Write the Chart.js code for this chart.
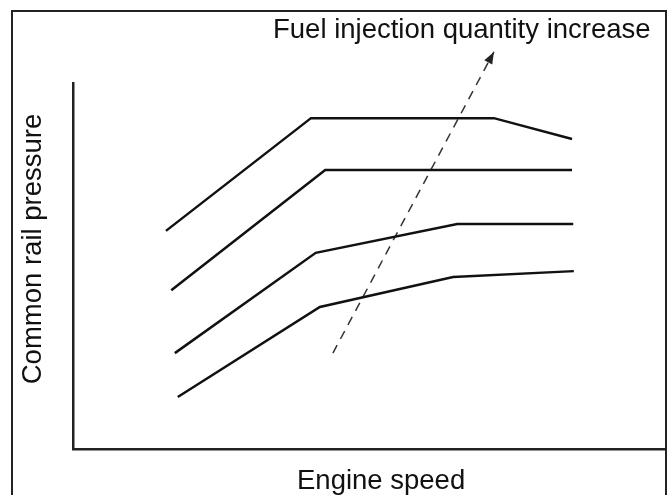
<!DOCTYPE html>
<html lang="en">
<head>
  <meta charset="UTF-8">
  <title>Common rail pressure</title>
  <script src="https://cdn.jsdelivr.net/npm/chart.js"></script>
  <style>
    body {
      margin: 0;
      background: #fff;
    }
    canvas {
      display: block;
    }
  </style>
</head>
<body>
  <canvas id="grafico" width="671" height="495"></canvas>

  <script>
// engine speed (x) vs rail pressure (y), both in relative units 0-100
const curva1X = [15.7, 40.2, 71.1, 84.3];
const curva1Y = [59.6, 90.4, 90.4, 84.7];
const curva2X = [16.6, 42.6, 84.3];
const curva2Y = [43.4, 76.2, 76.2];
const curva3X = [17.2, 41.0, 64.9, 84.5];
const curva3Y = [26.2, 53.6, 61.5, 61.5];
const curva4X = [17.7, 41.7, 64.2, 84.6];
const curva4Y = [14.2, 38.8, 47.0, 48.6];

// dashed arrow: direction of increasing injection quantity (last point = tip)
const setaX = [43.9, 71.1];
const setaY = [26.2, 108.5];

const titulo = 'Fuel injection quantity increase';
const rotuloX = 'Engine speed';
const rotuloY = 'Common rail pressure';

const pontos = (xs, ys) => xs.map((x, i) => ({ x, y: ys[i] }));

const curva = (xs, ys) => ({
  data: pontos(xs, ys),
  borderColor: '#111',
  borderWidth: 2.5,
  pointRadius: 0,
  tension: 0,
  fill: false
});

const fonte = '27.5px "Liberation Sans", Arial, sans-serif';

// frame around the figure, arrowhead and the three text labels
const moldura = {
  id: 'moldura',
  beforeDraw(chart) {
    const ctx = chart.ctx;
    ctx.save();
    ctx.fillStyle = '#fff';
    ctx.fillRect(0, 0, chart.width, chart.height);
    ctx.strokeStyle = '#222';
    ctx.lineWidth = 2;
    ctx.strokeRect(12, 11, 654, 520);
    ctx.restore();
  },
  afterDraw(chart) {
    const ctx = chart.ctx;
    const { x, y } = chart.scales;

    // arrowhead at the end of the dashed line
    const x0 = x.getPixelForValue(setaX[0]), y0 = y.getPixelForValue(setaY[0]);
    const x1 = x.getPixelForValue(setaX[1]), y1 = y.getPixelForValue(setaY[1]);
    const len = Math.hypot(x1 - x0, y1 - y0);
    const ux = (x1 - x0) / len, uy = (y1 - y0) / len;
    const bx = x1 - ux * 12, by = y1 - uy * 12;
    ctx.save();
    ctx.fillStyle = '#222';
    ctx.beginPath();
    ctx.moveTo(x1, y1);
    ctx.lineTo(bx - uy * 4.5, by + ux * 4.5);
    ctx.lineTo(bx + uy * 4.5, by - ux * 4.5);
    ctx.closePath();
    ctx.fill();
    ctx.restore();

    ctx.save();
    ctx.fillStyle = '#111';
    ctx.font = fonte;
    ctx.textBaseline = 'alphabetic';
    ctx.textAlign = 'left';
    ctx.fillText(titulo, 273, 38);
    ctx.fillText(rotuloX, 297, 489);
    ctx.translate(41, 249);
    ctx.rotate(-Math.PI / 2);
    ctx.textAlign = 'center';
    ctx.fillText(rotuloY, 0, 0);
    ctx.restore();
  }
};

new Chart(document.getElementById('grafico').getContext('2d'), {
  type: 'line',
  data: {
    datasets: [
      curva(curva1X, curva1Y),
      curva(curva2X, curva2Y),
      curva(curva3X, curva3Y),
      curva(curva4X, curva4Y),
      {
        data: pontos(setaX, setaY),
        borderColor: '#333',
        borderWidth: 1.5,
        borderDash: [9, 7],
        pointRadius: 0,
        tension: 0,
        clip: false
      }
    ]
  },
  options: {
    responsive: false,
    animation: false,
    events: [],
    layout: {
      padding: { left: 73, top: 83, right: 6, bottom: 46 }
    },
    plugins: {
      legend: { display: false },
      tooltip: { enabled: false }
    },
    scales: {
      x: {
        type: 'linear',
        min: 0,
        max: 100,
        ticks: { display: false },
        grid: { display: false, drawTicks: false },
        border: { display: true, color: '#222', width: 2.5 }
      },
      y: {
        type: 'linear',
        min: 0,
        max: 100,
        ticks: { display: false },
        grid: { display: false, drawTicks: false },
        border: { display: true, color: '#222', width: 2.5 }
      }
    }
  },
  plugins: [moldura]
});
</script>
</body>
</html>
